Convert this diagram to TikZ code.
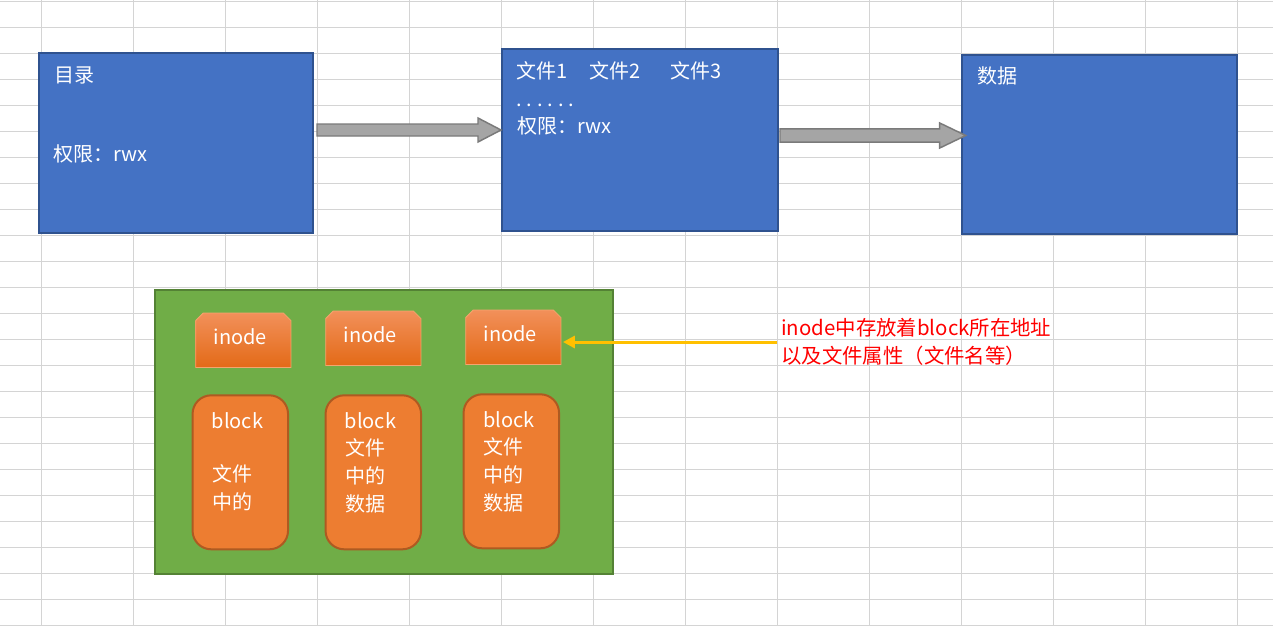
\documentclass[tikz,border=0pt]{standalone}
\usepackage{fontspec}
\setmainfont{Noto Sans CJK SC}
\usetikzlibrary{calc,arrows.meta}
\definecolor{gridc}{HTML}{D4D4D4}
\definecolor{bluef}{HTML}{4472C4}
\definecolor{blued}{HTML}{2F528F}
\definecolor{arrowf}{HTML}{A5A5A5}
\definecolor{arrowd}{HTML}{7A7A7A}
\definecolor{greenf}{HTML}{70AD47}
\definecolor{greend}{HTML}{548235}
\definecolor{orangef}{HTML}{ED7D31}
\definecolor{oranged}{HTML}{AE5A21}
\definecolor{inodeT}{HTML}{F2905A}
\definecolor{inodeM}{HTML}{F07C2C}
\definecolor{inodeB}{HTML}{E36A17}
\definecolor{inodeL}{HTML}{F5A46E}
\definecolor{yel}{HTML}{FFC000}
\newcommand\fatarrow[5]{%
  \draw[blockarrow] let \p1=(#1), \p2=(#2) in
    (\x1,\y1+#3) -- (\x2-#5,\y1+#3) -- (\x2-#5,\y1+#4) -- (\x2,\y1)
    -- (\x2-#5,\y1-#4) -- (\x2-#5,\y1-#3) -- (\x1,\y1-#3) -- cycle;}
\newcommand\inodeshape[1]{%
  \shade[inodefill] (#1.south west) -- ($(#1.north west)+(0,7.5)$)
    -- ($(#1.north west)+(7.5,0)$) -- ($(#1.north east)+(-7.5,0)$)
    -- ($(#1.north east)+(0,7.5)$) -- (#1.south east) -- cycle;}
\tikzset{
  gridline/.style={draw=gridc, line width=0.75pt},
  bluebox/.style={draw=blued, fill=bluef, line width=1.5pt, inner sep=0pt},
  blockarrow/.style={draw=arrowd, fill=arrowf, line width=1.1pt, line join=miter},
  greenbox/.style={draw=greend, fill=greenf, line width=1.5pt, inner sep=0pt},
  inodebox/.style={rectangle, inner sep=0pt,
    minimum width=94.7*0.75pt, minimum height=54*0.75pt},
  inodefill/.style={draw=inodeL, line width=0.6pt,
    top color=inodeT, middle color=inodeM, bottom color=inodeB},
  blockbox/.style={rectangle, rounded corners=14pt, draw=oranged, fill=orangef,
    line width=1.5pt, inner sep=0pt, minimum width=95.5*0.75pt, minimum height=154*0.75pt},
  txt/.style={text=white, inner sep=0pt, anchor=west, text height=13.2pt, text depth=1.8pt,
    font=\fontsize{15}{18}\selectfont},
  note/.style={text=red, align=left, anchor=west, inner xsep=3pt, inner ysep=0pt,
    font=\fontsize{15.3}{20.5}\selectfont},
  yarrow/.style={draw=yel, line width=2.25pt, -{Triangle[length=9pt,width=9pt]}, shorten >=1.5pt}
}
\newcommand\dotcell{\makebox[7.9pt][l]{.}}
\begin{document}
\begin{tikzpicture}[x=0.75pt,y=-0.75pt]
\useasboundingbox (0,0) rectangle (1273,626);
\fill[white] (0,0) rectangle (1273,626);
% spreadsheet grid
\foreach \i in {0,...,13} \draw[gridline] ({41.3+92*\i},0) -- ({41.3+92*\i},626);
\foreach \j in {0,...,24} \draw[gridline] (0,{1.3+26*\j}) -- (1273,{1.3+26*\j});
% top row boxes
\node[bluebox, minimum width=274*0.75pt, minimum height=180*0.75pt] (dir) at (176,143) {};
\node[bluebox, minimum width=276*0.75pt, minimum height=182*0.75pt] (files) at (640,140) {};
\node[bluebox, minimum width=275*0.75pt, minimum height=179*0.75pt] (data) at (1099.5,144.5) {};
\node[txt] (t1a) at (54,74.5) {目录};
\node[txt] (t1b) at (53.5,154) {权限：rwx};
\node[txt] (t2a) at (516.5,70.5) {文件1};
\node[txt] (t2b) at (589.5,70.5) {文件2};
\node[txt] (t2c) at (670.5,70.5) {文件3};
\node[txt] (t2d) at (516,99) {\dotcell\dotcell\dotcell\dotcell\dotcell\dotcell};
\node[txt] (t2e) at (517,126) {权限：rwx};
\node[txt] (t3a) at (977.5,76) {数据};
% block arrows
\coordinate (a1s) at ($(dir.east)+(3,-13)$);
\coordinate (a1e) at (files.west |- a1s);
\fatarrow{a1s}{a1e}{4.5pt}{9pt}{17.25pt}
\coordinate (a2s) at ($(files.east)+(1,-4.5)$);
\coordinate (a2e) at ($(data.west |- a2s)+(4.7,0)$);
\fatarrow{a2s}{a2e}{4.9pt}{9.4pt}{19.5pt}
% green area
\node[greenbox, minimum width=458*0.75pt, minimum height=284*0.75pt] (fs) at (384,432) {};
\node[inodebox] (in1) at (243.3,340.3) {};
\node[inodebox] (in2) at (373.3,338.3) {};
\node[inodebox] (in3) at (513.3,337.3) {};
\inodeshape{in1}
\inodeshape{in2}
\inodeshape{in3}
\node[txt] (i1) at (213.5,337) {inode};
\node[txt] (i2) at (343.5,335) {inode};
\node[txt] (i3) at (483.5,334) {inode};
\node[blockbox] (b1) at (240.3,472.3) {};
\node[blockbox] (b2) at (373.3,472.3) {};
\node[blockbox] (b3) at (511.3,471.3) {};
\node[txt] (b1a) at (211.5,421) {block};
\node[txt] (b1b) at (212,474) {文件};
\node[txt] (b1c) at (212,502) {中的};
\node[txt] (b2a) at (344.5,421) {block};
\node[txt] (b2b) at (345,448) {文件};
\node[txt] (b2c) at (345,476) {中的};
\node[txt] (b2d) at (345,504) {数据};
\node[txt] (b3a) at (483,420) {block};
\node[txt] (b3b) at (483.5,447) {文件};
\node[txt] (b3c) at (483.5,475) {中的};
\node[txt] (b3d) at (483.5,503) {数据};
% annotation
\node[note] (note) at (777,342) {inode中存放着block所在地址\\以及文件属性（文件名等）};
\draw[yarrow] (note.west) -- (note.west -| in3.east);
\end{tikzpicture}
\end{document}
